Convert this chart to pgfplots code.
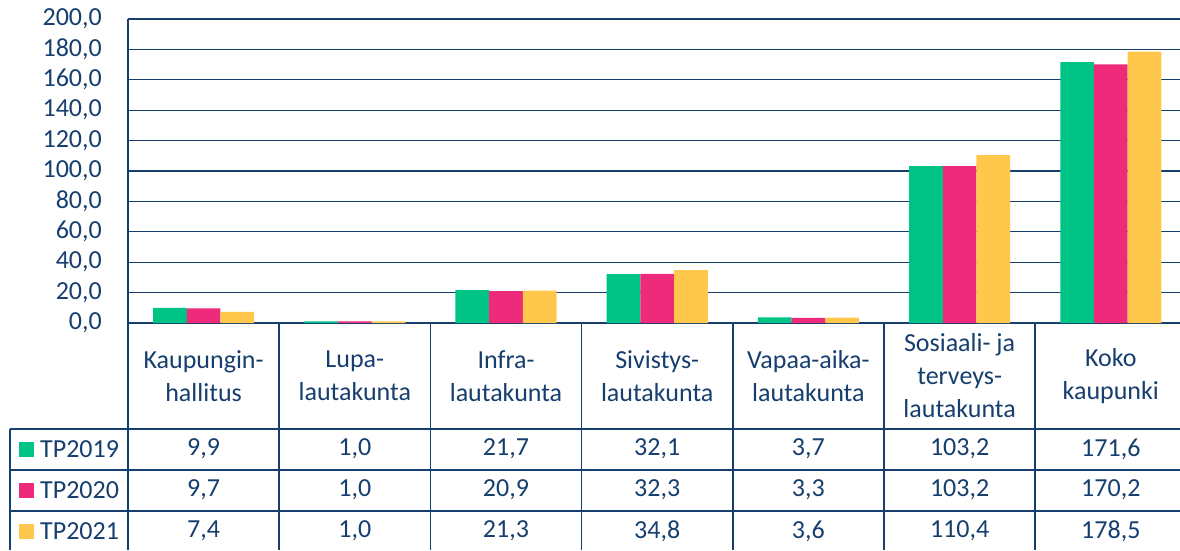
\documentclass[border=0pt]{standalone}
\usepackage{pgfplots}
\pgfplotsset{compat=1.18}
\usepackage{pgfplotstable}
\usepackage{fontspec}
\setmainfont{Carlito}
\definecolor{tb}{RGB}{22,62,110}
\definecolor{cA}{RGB}{0,196,134}
\definecolor{cB}{RGB}{238,42,123}
\definecolor{cC}{RGB}{255,200,77}
\pgfplotstableread{
x a b c
0 9.9 9.7 7.4
1 1.0 1.0 1.0
2 21.7 20.9 21.3
3 32.1 32.3 34.8
4 3.7 3.3 3.6
5 103.2 103.2 110.4
6 171.6 170.2 178.5
}\data
\pgfkeys{/pgf/number format/.cd,fixed,fixed zerofill,precision=1,use comma,assume math mode=true}
\begin{document}
\fontsize{26}{33}\selectfont
\begin{tikzpicture}[x=1pt,y=1pt]
\useasboundingbox (0,0) rectangle (1180,550);
\begin{axis}[
  at={(128pt,227pt)}, anchor=south west,
  scale only axis, width=1058.4pt, height=304pt,
  xmin=-0.5, xmax=6.5, ymin=0, ymax=200,
  ytick={0,20,...,200}, xtick=\empty,
  axis x line*=bottom, axis y line*=left,
  axis line style={draw=tb, line width=2pt, -},
  ymajorgrids, grid style={draw=tb, line width=1.2pt},
  major tick length=0pt,
  ybar=0pt, bar width=33.7pt,
  yticklabel style={font=\fontsize{26}{30}\selectfont, text=tb, inner sep=0pt, xshift=-26pt},
]
\addplot[fill=cA, draw=none] table[x=x,y=a]{\data};
\addplot[fill=cB, draw=none] table[x=x,y=b]{\data};
\addplot[fill=cC, draw=none] table[x=x,y=c]{\data};
\end{axis}
% table grid
\draw[tb, line width=2pt] (128,227) -- (128,0);
\foreach \k in {1,...,7}{ \draw[tb, line width=1.5pt] ({128+151.2*\k},227) -- ({128+151.2*\k},0); }
\draw[tb, line width=1.5pt] (10,121) -- (10,0);
\foreach \yy in {121,80,39}{ \draw[tb, line width=1.5pt] (10,\yy) -- (1190,\yy); }
% header
\foreach \lab [count=\i from 0] in {{Kaupungin-\\hallitus},{Lupa-\\lautakunta},{Infra-\\lautakunta},{Sivistys-\\lautakunta},{Vapaa-aika-\\lautakunta},{Sosiaali- ja\\terveys-\\lautakunta},{Koko\\kaupunki}}{
  \node[text=tb, align=center, inner sep=0pt] at ({128+151.2*(\i+0.5)},174) {\lab};
}
% values
\foreach \i in {0,...,6}{
  \foreach \c/\yy in {a/101,b/60,c/19}{
    \pgfplotstablegetelem{\i}{\c}\of\data
    \node[text=tb, inner sep=0pt] at ({128+151.2*(\i+0.5)},\yy) {\pgfmathprintnumber{\pgfplotsretval}};
  }
}
% legend
\foreach \col/\nm/\yy in {cA/TP2019/101,cB/TP2020/60,cC/TP2021/19}{
  \fill[\col] (19,{\yy-7.5}) rectangle (34,{\yy+7.5});
  \node[text=tb, anchor=west, inner sep=0pt] at (40,\yy) {\nm};
}
\end{tikzpicture}
\end{document}
